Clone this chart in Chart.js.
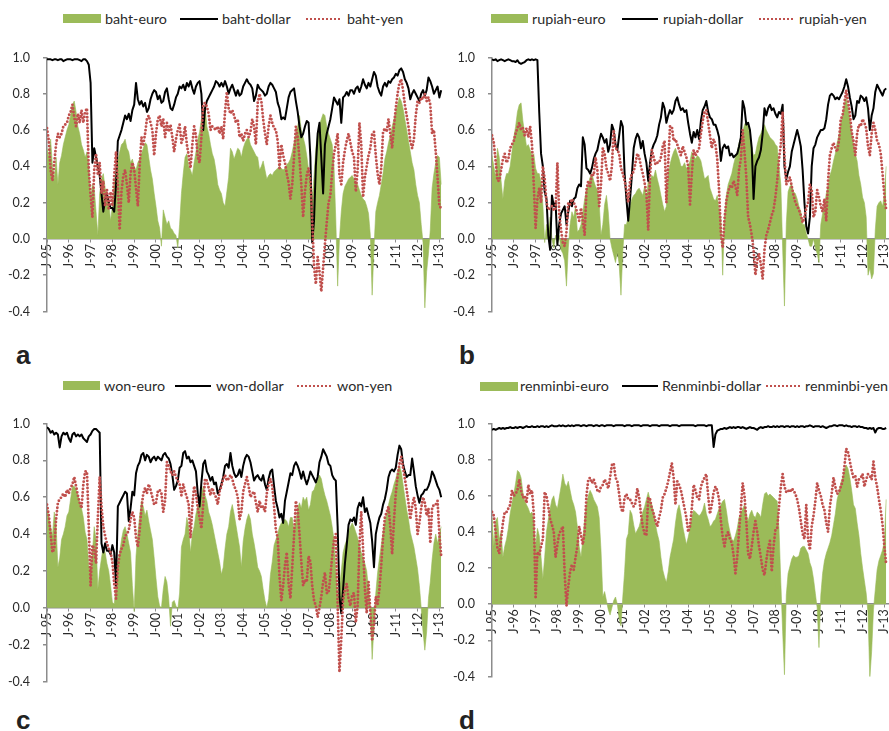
<!DOCTYPE html>
<html>
<head>
<meta charset="utf-8">
<script src="https://cdn.jsdelivr.net/npm/chart.js@4.4.1/dist/chart.umd.min.js"></script>
<style>
  html, body { margin: 0; padding: 0; background: #fff; width: 889px; height: 731px; overflow: hidden; }
  body { position: relative; font-family: Lato, "Liberation Sans", sans-serif; }
  canvas { position: absolute; }
  .lg { position: absolute; font-size: 14.3px; line-height: 16px; color: #2a2a2a; white-space: nowrap; }
  .box { position: absolute; height: 9px; background: #9bbb59; }
  .ln { position: absolute; height: 2px; background: #000; }
  .dt { position: absolute; height: 4px;
        background: radial-gradient(circle, #c0504d 1.1px, rgba(192,80,77,0) 1.5px) 0 0 / 4px 4px repeat-x; }
  .tag { position: absolute; font: bold 26px "Liberation Sans", Arial, sans-serif; line-height: 26px; color: #222; }
</style>
</head>
<body>
<canvas id="pa" width="459" height="295" style="left:0px;top:37px"></canvas>
<canvas id="pb" width="459" height="295" style="left:445px;top:37px"></canvas>
<canvas id="pc" width="459" height="299" style="left:0px;top:403px"></canvas>
<canvas id="pd" width="459" height="294" style="left:445px;top:403px"></canvas>

<!-- legends -->
<div class="box" style="left:63px;top:14px;width:38px"></div>
<div class="lg" style="left:105px;top:11px">baht-euro</div>
<div class="ln" style="left:180px;top:18px;width:38px"></div>
<div class="lg" style="left:222px;top:11px">baht-dollar</div>
<div class="dt" style="left:305px;top:17px;width:37px"></div>
<div class="lg" style="left:347px;top:11px">baht-yen</div>

<div class="box" style="left:491px;top:14px;width:37px"></div>
<div class="lg" style="left:532px;top:11px">rupiah-euro</div>
<div class="ln" style="left:622px;top:18px;width:36px"></div>
<div class="lg" style="left:663px;top:11px">rupiah-dollar</div>
<div class="dt" style="left:758px;top:17px;width:37px"></div>
<div class="lg" style="left:799px;top:11px">rupiah-yen</div>

<div class="box" style="left:63px;top:381px;width:37px"></div>
<div class="lg" style="left:104px;top:378px">won-euro</div>
<div class="ln" style="left:175px;top:385px;width:36px"></div>
<div class="lg" style="left:216px;top:378px">won-dollar</div>
<div class="dt" style="left:296px;top:384px;width:37px"></div>
<div class="lg" style="left:337px;top:378px">won-yen</div>

<div class="box" style="left:480px;top:382px;width:38px"></div>
<div class="lg" style="left:520px;top:378px">renminbi-euro</div>
<div class="ln" style="left:622px;top:385px;width:36px"></div>
<div class="lg" style="left:662px;top:378px">Renminbi-dollar</div>
<div class="dt" style="left:765px;top:384px;width:36px"></div>
<div class="lg" style="left:805px;top:378px">renminbi-yen</div>

<div class="tag" style="left:16px;top:342px">a</div>
<div class="tag" style="left:459px;top:342px">b</div>
<div class="tag" style="left:16px;top:707px">c</div>
<div class="tag" style="left:459px;top:707px">d</div>

<script>
// Monthly correlation readings, Jan 1995 .. Feb 2013 (one value per month).
const yearLabels = ['J-95','J-96','J-97','J-98','J-99','J-00','J-01','J-02','J-03','J-04',
                    'J-05','J-06','J-07','J-08','J-09','J-10','J-11','J-12','J-13'];
const yTicks = [-0.4, -0.2, 0.0, 0.2, 0.4, 0.6, 0.8, 1.0];

// (a) baht
const bahtEuro = [
  0.50,0.45,0.55,0.40,0.33,0.45,0.30,0.42,0.46,0.52,0.56,0.60,
  0.63,0.68,0.74,0.76,0.70,0.62,0.58,0.52,0.49,0.45,0.48,0.40,
  0.22,0.30,0.28,0.15,0.02,0.25,0.33,0.36,0.28,0.25,0.20,0.10,
  0.18,0.30,0.38,0.43,0.48,0.52,0.53,0.55,0.50,0.48,0.42,0.44,
  0.40,0.38,0.42,0.44,0.47,0.50,0.53,0.52,0.45,0.38,0.33,0.25,
  0.18,0.10,0.06,-0.04,0.16,0.12,0.08,0.10,0.06,0.05,0.03,0.02,
  -0.05,0.08,0.25,0.36,0.45,0.47,0.40,0.38,0.35,0.42,0.48,0.55,
  0.59,0.66,0.70,0.73,0.62,0.58,0.52,0.47,0.44,0.38,0.30,0.27,
  0.25,0.20,0.18,0.26,0.34,0.50,0.48,0.44,0.47,0.50,0.49,0.45,
  0.50,0.53,0.55,0.56,0.52,0.50,0.48,0.46,0.45,0.38,0.40,0.43,
  0.38,0.33,0.35,0.36,0.35,0.37,0.38,0.39,0.40,0.39,0.38,0.39,
  0.41,0.42,0.44,0.48,0.53,0.58,0.62,0.68,0.60,0.56,0.52,0.46,
  0.38,0.30,0.22,0.35,0.50,0.58,0.63,0.66,0.69,0.68,0.62,0.58,
  0.55,0.52,0.40,0.10,-0.26,0.00,0.15,0.25,0.29,0.31,0.33,0.34,
  0.35,0.33,0.31,0.30,0.27,0.24,0.22,0.21,0.18,0.14,0.02,-0.31,
  -0.05,0.15,0.20,0.24,0.30,0.36,0.44,0.48,0.53,0.57,0.62,0.66,
  0.70,0.74,0.78,0.76,0.72,0.66,0.60,0.54,0.48,0.42,0.38,0.30,
  0.24,0.20,0.08,-0.02,-0.38,-0.18,-0.08,0.05,0.28,0.36,0.42,0.46,
  0.45,0.30
];
const bahtDollar = [
  0.99,0.99,0.99,0.985,0.99,0.99,0.985,0.99,0.99,0.98,0.985,0.99,
  0.99,0.99,0.985,0.99,0.99,0.99,0.985,0.98,0.99,0.99,0.98,0.96,
  0.86,0.42,0.50,0.45,0.40,0.35,0.25,0.15,0.22,0.25,0.20,0.17,
  0.17,0.15,0.30,0.54,0.57,0.60,0.64,0.68,0.66,0.69,0.65,0.71,
  0.74,0.86,0.77,0.74,0.76,0.73,0.75,0.70,0.72,0.77,0.80,0.82,
  0.81,0.77,0.79,0.75,0.76,0.81,0.83,0.77,0.72,0.71,0.74,0.78,
  0.80,0.84,0.83,0.85,0.82,0.86,0.84,0.87,0.83,0.80,0.84,0.86,
  0.87,0.80,0.60,0.72,0.76,0.78,0.80,0.82,0.84,0.87,0.86,0.84,
  0.86,0.84,0.87,0.84,0.80,0.83,0.85,0.82,0.79,0.82,0.79,0.80,
  0.84,0.86,0.88,0.86,0.85,0.83,0.76,0.79,0.85,0.83,0.82,0.81,
  0.79,0.80,0.84,0.86,0.85,0.83,0.81,0.75,0.72,0.66,0.67,0.66,
  0.72,0.78,0.81,0.82,0.83,0.76,0.70,0.62,0.56,0.58,0.62,0.65,
  0.64,0.45,-0.02,0.10,0.40,0.58,0.64,0.45,0.25,0.52,0.58,0.62,
  0.66,0.72,0.78,0.76,0.74,0.77,0.64,0.78,0.79,0.81,0.79,0.82,
  0.82,0.80,0.83,0.84,0.81,0.84,0.88,0.85,0.83,0.86,0.84,0.88,
  0.92,0.90,0.84,0.81,0.79,0.84,0.86,0.84,0.87,0.86,0.88,0.89,
  0.91,0.90,0.93,0.94,0.92,0.88,0.86,0.83,0.77,0.80,0.82,0.80,
  0.78,0.76,0.80,0.82,0.79,0.82,0.89,0.87,0.84,0.80,0.82,0.84,
  0.78,0.82
];
const bahtYen = [
  0.61,0.54,0.38,0.32,0.42,0.52,0.58,0.56,0.58,0.62,0.63,0.64,
  0.68,0.70,0.74,0.67,0.62,0.69,0.64,0.71,0.64,0.70,0.72,0.38,
  0.24,0.12,0.38,0.47,0.35,0.42,0.25,0.32,0.18,0.27,0.16,0.26,
  0.18,0.35,0.48,0.30,0.05,0.26,0.35,0.38,0.30,0.20,0.36,0.42,
  0.38,0.28,0.18,0.40,0.56,0.52,0.58,0.66,0.68,0.64,0.60,0.46,
  0.58,0.66,0.68,0.62,0.66,0.56,0.64,0.59,0.63,0.56,0.48,0.55,
  0.60,0.63,0.53,0.56,0.62,0.52,0.46,0.39,0.52,0.62,0.57,0.45,
  0.42,0.56,0.74,0.75,0.73,0.69,0.60,0.62,0.61,0.60,0.62,0.58,
  0.62,0.55,0.70,0.81,0.72,0.69,0.71,0.68,0.64,0.66,0.56,0.58,
  0.54,0.58,0.60,0.56,0.59,0.66,0.62,0.52,0.75,0.80,0.76,0.66,
  0.58,0.52,0.62,0.68,0.64,0.61,0.60,0.54,0.39,0.52,0.46,0.42,
  0.36,0.31,0.22,0.30,0.45,0.62,0.56,0.44,0.30,0.12,0.26,0.35,
  0.39,0.32,0.10,-0.15,-0.25,-0.10,-0.18,-0.29,-0.16,-0.03,0.09,0.20,
  0.24,0.37,0.47,0.52,0.58,0.35,0.30,0.42,0.49,0.54,0.58,0.53,
  0.48,0.45,0.26,0.38,0.64,0.52,0.23,0.34,0.40,0.46,0.50,0.58,
  0.59,0.46,0.36,0.30,0.39,0.59,0.61,0.59,0.66,0.58,0.50,0.62,
  0.72,0.80,0.86,0.88,0.82,0.74,0.68,0.62,0.54,0.50,0.55,0.68,
  0.76,0.75,0.78,0.77,0.80,0.76,0.78,0.74,0.58,0.60,0.48,0.34,
  0.18,0.17
];

// (b) rupiah
const rupiahEuro = [
  0.46,0.40,0.34,0.50,0.45,0.32,0.22,0.32,0.36,0.36,0.40,0.48,
  0.56,0.62,0.70,0.74,0.75,0.65,0.58,0.51,0.52,0.49,0.46,0.47,
  0.39,0.36,0.36,0.31,0.19,-0.02,0.08,0.02,0.12,0.00,-0.05,0.02,
  -0.03,0.02,-0.06,-0.08,-0.12,-0.26,-0.05,0.08,0.15,0.12,0.18,0.04,
  0.05,0.08,0.15,0.22,0.27,0.30,0.34,0.36,0.32,0.29,0.27,0.20,
  0.02,0.08,0.19,0.24,0.15,0.00,-0.05,-0.09,-0.13,-0.07,-0.14,-0.31,
  -0.07,0.08,0.08,0.12,0.18,0.22,0.24,0.25,0.27,0.28,0.26,0.24,
  0.29,0.22,0.32,0.32,0.35,0.34,0.38,0.33,0.29,0.24,0.19,0.15,
  0.18,0.36,0.41,0.45,0.48,0.50,0.47,0.44,0.40,0.40,0.42,0.39,
  0.40,0.43,0.48,0.46,0.44,0.46,0.45,0.43,0.38,0.33,0.34,0.35,
  0.28,0.25,0.22,0.21,0.24,0.16,0.12,-0.20,0.12,0.24,0.30,0.33,
  0.36,0.41,0.45,0.48,0.53,0.56,0.59,0.63,0.65,0.62,0.56,0.50,
  0.46,0.47,0.52,0.56,0.58,0.61,0.63,0.60,0.58,0.56,0.55,0.54,
  0.52,0.51,0.40,0.30,-0.05,-0.37,0.08,0.26,0.29,0.30,0.26,0.25,
  0.22,0.18,0.15,0.08,0.08,0.03,0.00,-0.04,-0.04,0.00,-0.05,-0.08,
  -0.13,0.08,0.14,0.18,0.25,0.29,0.35,0.38,0.43,0.47,0.53,0.57,
  0.63,0.68,0.74,0.78,0.72,0.66,0.58,0.52,0.47,0.43,0.35,0.30,
  0.23,0.20,0.12,-0.20,-0.16,-0.22,-0.19,0.05,0.18,0.20,0.21,0.18,
  0.25,0.40
];
const rupiahDollar = [
  0.99,0.985,0.99,0.98,0.985,0.99,0.985,0.98,0.985,0.99,0.985,0.98,
  0.98,0.975,0.985,0.97,0.965,0.97,0.975,0.985,0.99,0.985,0.99,0.985,
  0.99,0.985,0.70,0.47,0.40,0.26,0.22,0.02,-0.06,0.24,0.18,0.20,
  -0.03,0.08,0.14,0.16,0.18,0.08,0.15,0.21,0.18,0.22,0.23,0.28,
  0.30,0.29,0.56,0.52,0.39,0.38,0.36,0.39,0.44,0.47,0.49,0.54,
  0.58,0.56,0.53,0.55,0.48,0.52,0.63,0.60,0.52,0.49,0.57,0.65,
  0.62,0.36,0.22,0.10,0.22,0.35,0.50,0.55,0.58,0.56,0.50,0.54,
  0.47,0.42,0.32,0.42,0.49,0.52,0.54,0.57,0.63,0.67,0.75,0.72,
  0.64,0.68,0.71,0.69,0.71,0.76,0.78,0.74,0.71,0.72,0.70,0.71,
  0.64,0.58,0.53,0.59,0.56,0.60,0.55,0.65,0.71,0.73,0.76,0.70,
  0.67,0.66,0.63,0.63,0.60,0.56,0.43,0.50,0.52,0.50,0.51,0.46,
  0.47,0.45,0.46,0.47,0.51,0.56,0.76,0.72,0.63,0.64,0.60,0.50,
  0.22,0.40,0.43,0.45,0.49,0.58,0.72,0.68,0.72,0.74,0.71,0.72,
  0.69,0.67,0.70,0.69,0.74,0.40,0.33,0.37,0.40,0.48,0.52,0.56,
  0.60,0.56,0.51,0.38,0.20,0.07,0.03,0.12,0.40,0.50,0.52,0.56,
  0.58,0.60,0.60,0.61,0.66,0.74,0.79,0.80,0.79,0.77,0.78,0.77,
  0.79,0.81,0.84,0.88,0.84,0.78,0.73,0.66,0.68,0.76,0.75,0.79,
  0.78,0.76,0.78,0.72,0.60,0.68,0.72,0.81,0.85,0.83,0.81,0.79,
  0.82,0.83
];
const rupiahYen = [
  0.57,0.53,0.43,0.32,0.32,0.38,0.44,0.47,0.42,0.44,0.50,0.52,
  0.54,0.58,0.61,0.64,0.60,0.61,0.57,0.61,0.56,0.62,0.52,0.30,
  0.06,0.22,0.28,0.20,0.40,0.33,0.20,0.16,0.17,0.18,0.16,0.16,
  0.42,0.14,0.05,-0.02,-0.04,0.04,0.20,0.19,0.22,0.20,0.18,0.14,
  0.10,0.17,0.10,0.02,0.27,0.32,0.29,0.36,0.35,0.45,0.38,0.18,
  0.30,0.50,0.47,0.39,0.36,0.32,0.40,0.60,0.50,0.49,0.47,0.39,
  0.36,0.32,0.27,0.20,0.32,0.36,0.37,0.42,0.47,0.45,0.40,0.36,
  0.31,0.25,0.05,0.35,0.49,0.45,0.41,0.42,0.42,0.45,0.51,0.54,
  0.20,0.42,0.62,0.62,0.54,0.55,0.52,0.49,0.46,0.51,0.48,0.45,
  0.40,0.19,0.36,0.49,0.46,0.48,0.50,0.58,0.65,0.70,0.71,0.64,
  0.57,0.50,0.55,0.52,0.44,0.27,0.03,-0.05,0.11,0.21,0.26,0.29,
  0.28,0.32,0.29,0.24,0.38,0.44,0.60,0.48,0.34,0.12,0.08,0.02,
  -0.06,-0.20,-0.12,-0.08,-0.14,-0.22,-0.06,0.02,0.05,0.09,0.13,0.16,
  0.23,0.32,0.44,0.52,0.70,0.45,0.30,0.32,0.34,0.29,0.24,0.20,
  0.18,0.16,0.13,0.09,0.12,0.17,0.20,0.30,0.27,0.12,0.15,0.27,
  0.23,0.18,0.15,0.22,0.10,0.32,0.46,0.50,0.53,0.50,0.48,0.54,
  0.66,0.68,0.75,0.82,0.76,0.69,0.59,0.54,0.46,0.58,0.63,0.62,
  0.66,0.64,0.61,0.51,0.46,0.58,0.64,0.60,0.54,0.52,0.47,0.36,
  0.24,0.16
];

// (c) won
const wonEuro = [
  0.54,0.49,0.44,0.39,0.52,0.45,0.22,0.27,0.37,0.40,0.44,0.50,
  0.52,0.59,0.66,0.66,0.64,0.61,0.57,0.54,0.49,0.41,0.37,0.23,
  0.18,0.30,0.44,0.37,0.10,0.20,0.27,0.33,0.30,0.24,0.20,0.12,
  0.03,0.02,0.12,0.25,0.30,0.37,0.42,0.44,0.40,0.35,0.30,0.12,
  -0.02,0.28,0.40,0.50,0.58,0.55,0.50,0.53,0.47,0.42,0.37,0.27,
  0.16,0.06,0.01,0.00,0.10,0.17,0.14,0.05,-0.10,0.03,0.04,0.01,
  -0.01,0.08,0.33,0.37,0.40,0.49,0.44,0.30,0.40,0.44,0.51,0.55,
  0.58,0.62,0.66,0.61,0.58,0.52,0.49,0.45,0.40,0.35,0.30,0.25,
  0.18,0.22,0.32,0.40,0.44,0.52,0.56,0.51,0.45,0.39,0.33,0.22,
  0.36,0.43,0.48,0.51,0.48,0.40,0.35,0.29,0.22,0.20,0.17,0.10,
  0.04,0.00,0.05,0.18,0.25,0.34,0.37,0.40,0.44,0.46,0.47,0.48,
  0.47,0.44,0.49,0.49,0.42,0.47,0.54,0.57,0.54,0.60,0.58,0.60,
  0.53,0.56,0.63,0.64,0.67,0.69,0.72,0.70,0.65,0.61,0.58,0.54,
  0.50,0.44,0.37,0.20,0.05,0.10,0.20,0.30,0.34,0.37,0.41,0.44,
  0.46,0.44,0.41,0.38,0.34,0.30,0.27,0.24,0.20,0.10,0.00,-0.28,
  -0.10,0.08,0.19,0.27,0.34,0.41,0.46,0.51,0.56,0.60,0.63,0.67,
  0.70,0.74,0.77,0.74,0.67,0.60,0.53,0.48,0.41,0.37,0.33,0.27,
  0.21,0.12,0.00,-0.13,-0.23,-0.13,0.05,0.14,0.26,0.35,0.40,0.35,
  0.40,0.44
];
const wonDollar = [
  0.98,0.97,0.95,0.96,0.94,0.95,0.94,0.87,0.93,0.95,0.94,0.95,
  0.92,0.90,0.94,0.95,0.93,0.94,0.93,0.94,0.92,0.91,0.90,0.93,
  0.94,0.96,0.97,0.97,0.96,0.95,0.35,0.30,0.35,0.31,0.31,0.29,
  0.34,0.30,0.12,0.55,0.57,0.59,0.61,0.63,0.62,0.47,0.54,0.63,
  0.61,0.73,0.77,0.79,0.83,0.84,0.80,0.83,0.82,0.79,0.81,0.82,
  0.80,0.82,0.81,0.80,0.83,0.84,0.82,0.81,0.78,0.72,0.64,0.66,
  0.69,0.76,0.77,0.84,0.85,0.81,0.82,0.79,0.80,0.77,0.74,0.62,
  0.55,0.68,0.78,0.80,0.74,0.72,0.69,0.71,0.67,0.68,0.62,0.64,
  0.67,0.71,0.77,0.78,0.76,0.84,0.77,0.73,0.71,0.72,0.75,0.71,
  0.77,0.81,0.83,0.82,0.79,0.74,0.69,0.71,0.72,0.70,0.69,0.72,
  0.67,0.64,0.70,0.74,0.75,0.66,0.58,0.54,0.49,0.51,0.46,0.58,
  0.63,0.68,0.73,0.72,0.77,0.79,0.77,0.74,0.70,0.74,0.70,0.67,
  0.70,0.74,0.72,0.70,0.68,0.71,0.79,0.82,0.86,0.84,0.82,0.78,
  0.77,0.72,0.70,0.69,0.44,0.06,-0.03,0.10,0.24,0.34,0.45,0.48,
  0.47,0.49,0.45,0.54,0.57,0.55,0.60,0.52,0.54,0.50,0.46,0.36,
  0.22,0.40,0.45,0.49,0.51,0.56,0.59,0.64,0.71,0.74,0.75,0.74,
  0.76,0.83,0.88,0.86,0.78,0.74,0.71,0.72,0.72,0.81,0.74,0.66,
  0.61,0.57,0.61,0.62,0.64,0.64,0.66,0.69,0.74,0.72,0.69,0.66,
  0.64,0.60
];
const wonYen = [
  0.56,0.50,0.40,0.30,0.32,0.48,0.57,0.59,0.60,0.62,0.60,0.64,
  0.62,0.65,0.67,0.71,0.66,0.61,0.57,0.54,0.67,0.74,0.74,0.44,
  0.12,0.34,0.32,0.24,0.49,0.71,0.55,0.44,0.39,0.35,0.32,0.30,
  0.25,0.13,0.05,0.22,0.29,0.32,0.34,0.39,0.40,0.42,0.48,0.52,
  0.49,0.38,0.33,0.42,0.54,0.62,0.65,0.62,0.67,0.64,0.60,0.56,
  0.57,0.63,0.64,0.62,0.52,0.58,0.79,0.77,0.74,0.72,0.74,0.71,
  0.69,0.67,0.61,0.67,0.63,0.60,0.56,0.38,0.55,0.66,0.62,0.54,
  0.49,0.43,0.56,0.70,0.69,0.65,0.61,0.65,0.62,0.60,0.56,0.63,
  0.66,0.70,0.72,0.69,0.70,0.72,0.70,0.66,0.64,0.60,0.48,0.52,
  0.63,0.67,0.71,0.66,0.60,0.62,0.63,0.57,0.52,0.58,0.54,0.55,
  0.52,0.62,0.67,0.70,0.66,0.55,0.42,0.38,0.17,0.04,0.12,0.23,
  0.30,0.13,0.05,0.22,0.39,0.58,0.53,0.40,0.25,0.12,0.15,0.14,
  0.28,0.25,0.12,0.04,0.01,-0.05,0.00,0.06,0.14,0.19,0.08,0.08,
  0.17,0.28,0.37,0.40,0.02,-0.35,-0.17,0.04,0.10,0.13,0.05,0.01,
  0.07,0.08,-0.08,0.01,0.34,0.52,0.32,0.10,-0.03,0.14,-0.02,-0.18,
  -0.09,0.06,0.02,0.10,0.23,0.38,0.49,0.52,0.55,0.44,0.29,0.47,
  0.62,0.71,0.78,0.82,0.76,0.70,0.64,0.57,0.48,0.55,0.60,0.54,
  0.40,0.46,0.54,0.60,0.57,0.50,0.54,0.35,0.54,0.56,0.56,0.58,
  0.40,0.28
];

// (d) renminbi
const renminbiEuro = [
  0.48,0.32,0.46,0.48,0.36,0.40,0.26,0.32,0.36,0.42,0.50,0.56,
  0.61,0.67,0.74,0.73,0.70,0.62,0.57,0.55,0.53,0.50,0.51,0.46,
  0.32,0.42,0.38,0.26,0.14,0.26,0.40,0.47,0.53,0.58,0.60,0.55,
  0.53,0.59,0.65,0.72,0.67,0.65,0.68,0.63,0.58,0.55,0.51,0.43,
  0.32,0.26,0.36,0.47,0.55,0.60,0.63,0.61,0.58,0.56,0.54,0.48,
  0.30,0.04,0.07,0.02,-0.03,-0.06,-0.02,0.02,0.04,0.00,-0.08,-0.12,
  0.04,0.18,0.36,0.39,0.52,0.50,0.44,0.39,0.41,0.43,0.47,0.51,
  0.54,0.58,0.62,0.58,0.55,0.51,0.44,0.39,0.35,0.26,0.19,0.15,
  0.12,0.18,0.26,0.31,0.36,0.45,0.52,0.55,0.50,0.43,0.38,0.33,
  0.37,0.42,0.48,0.52,0.51,0.50,0.49,0.50,0.52,0.56,0.50,0.47,
  0.43,0.44,0.46,0.47,0.50,0.53,0.55,0.57,0.58,0.52,0.45,0.40,
  0.36,0.35,0.38,0.42,0.48,0.50,0.53,0.55,0.50,0.46,0.50,0.52,
  0.49,0.48,0.51,0.50,0.48,0.55,0.61,0.62,0.60,0.61,0.60,0.59,
  0.58,0.57,0.42,0.12,-0.15,-0.39,0.05,0.17,0.21,0.25,0.27,0.26,
  0.26,0.27,0.31,0.32,0.32,0.30,0.28,0.23,0.20,0.14,0.06,-0.02,
  -0.24,0.05,0.17,0.24,0.28,0.31,0.34,0.38,0.44,0.50,0.58,0.62,
  0.67,0.70,0.74,0.77,0.75,0.70,0.63,0.55,0.53,0.45,0.38,0.28,
  0.20,0.13,0.06,-0.05,-0.41,-0.26,-0.03,0.08,0.19,0.24,0.27,0.30,
  0.35,0.58
];
const renminbiDollar = [
  0.965,0.97,0.965,0.97,0.975,0.97,0.975,0.97,0.975,0.975,0.98,0.975,
  0.975,0.98,0.975,0.98,0.98,0.975,0.98,0.985,0.98,0.98,0.985,0.98,
  0.98,0.985,0.98,0.985,0.985,0.98,0.985,0.98,0.985,0.99,0.985,0.985,
  0.985,0.99,0.985,0.99,0.985,0.985,0.99,0.985,0.99,0.985,0.99,0.99,
  0.99,0.985,0.99,0.99,0.985,0.99,0.99,0.99,0.985,0.99,0.99,0.985,
  0.99,0.99,0.985,0.99,0.99,0.99,0.99,0.985,0.99,0.99,0.99,0.99,
  0.99,0.985,0.99,0.99,0.99,0.985,0.99,0.99,0.99,0.99,0.985,0.99,
  0.99,0.99,0.99,0.985,0.99,0.99,0.99,0.99,0.985,0.99,0.99,0.99,
  0.99,0.99,0.985,0.99,0.99,0.99,0.99,0.985,0.99,0.99,0.99,0.99,
  0.99,0.99,0.99,0.99,0.985,0.99,0.99,0.99,0.99,0.99,0.985,0.99,
  0.99,0.99,0.87,0.94,0.96,0.965,0.97,0.97,0.975,0.97,0.975,0.98,
  0.975,0.98,0.975,0.98,0.98,0.975,0.98,0.975,0.97,0.975,0.98,0.975,
  0.975,0.97,0.965,0.975,0.98,0.975,0.98,0.98,0.985,0.98,0.98,0.985,
  0.98,0.985,0.98,0.985,0.985,0.98,0.985,0.985,0.98,0.985,0.985,0.98,
  0.985,0.98,0.985,0.985,0.98,0.985,0.985,0.99,0.985,0.98,0.985,0.985,
  0.985,0.98,0.985,0.98,0.975,0.98,0.985,0.985,0.99,0.99,0.985,0.99,
  0.99,0.99,0.985,0.99,0.985,0.985,0.98,0.985,0.985,0.98,0.985,0.98,
  0.98,0.975,0.975,0.97,0.975,0.97,0.975,0.95,0.97,0.975,0.975,0.97,
  0.97,0.975
];
const renminbiYen = [
  0.51,0.49,0.40,0.31,0.28,0.36,0.45,0.51,0.51,0.53,0.55,0.63,
  0.60,0.61,0.63,0.69,0.63,0.59,0.60,0.56,0.66,0.61,0.63,0.50,
  0.03,0.29,0.27,0.32,0.36,0.62,0.60,0.54,0.47,0.44,0.40,0.26,
  0.33,0.39,0.41,0.43,0.17,-0.01,0.10,0.18,0.22,0.19,0.26,0.32,
  0.43,0.38,0.33,0.40,0.60,0.69,0.70,0.67,0.69,0.66,0.63,0.62,
  0.65,0.66,0.69,0.67,0.64,0.70,0.77,0.78,0.70,0.68,0.61,0.53,
  0.51,0.59,0.61,0.58,0.58,0.56,0.54,0.56,0.64,0.59,0.50,0.43,
  0.39,0.38,0.59,0.58,0.53,0.50,0.46,0.43,0.48,0.52,0.59,0.61,
  0.64,0.68,0.73,0.78,0.70,0.55,0.68,0.66,0.63,0.58,0.53,0.48,
  0.40,0.43,0.53,0.66,0.63,0.59,0.58,0.65,0.68,0.70,0.72,0.60,
  0.50,0.55,0.62,0.65,0.63,0.58,0.46,0.37,0.32,0.38,0.40,0.36,
  0.34,0.27,0.17,0.26,0.40,0.53,0.67,0.60,0.46,0.28,0.25,0.32,
  0.40,0.46,0.40,0.32,0.26,0.19,0.16,0.24,0.31,0.35,0.18,0.32,
  0.41,0.42,0.54,0.65,0.72,0.65,0.62,0.63,0.62,0.64,0.63,0.61,
  0.58,0.53,0.46,0.39,0.36,0.55,0.36,0.30,0.43,0.49,0.57,0.67,
  0.63,0.60,0.55,0.52,0.45,0.40,0.54,0.61,0.70,0.65,0.61,0.62,
  0.65,0.68,0.76,0.86,0.84,0.79,0.74,0.70,0.71,0.65,0.69,0.70,
  0.72,0.65,0.69,0.72,0.71,0.69,0.79,0.70,0.65,0.58,0.52,0.44,
  0.32,0.22
];

const GREEN = '#9bbb59';
const RED = '#c0504d';
const AXIS = '#8c8c8c';
const TEXT = '#2a2a2a';

// month index 0 = Jan 1995
const months = bahtEuro.map((_, i) => i);

function drawPanel(id, names, euro, dollar, yen) {
  new Chart(document.getElementById(id), {
    type: 'line',
    data: {
      labels: months,
      datasets: [
        { label: names[0], data: euro, order: 3, fill: 'origin',
          backgroundColor: GREEN, borderColor: GREEN, borderWidth: 0.6,
          pointRadius: 0, tension: 0 },
        { label: names[1], data: dollar, order: 2, fill: false,
          borderColor: '#000', borderWidth: 2, borderJoinStyle: 'round',
          pointRadius: 0, tension: 0 },
        { label: names[2], data: yen, order: 1, fill: false,
          borderColor: RED, borderWidth: 2.9, borderDash: [0, 3.6],
          borderCapStyle: 'round', borderJoinStyle: 'round',
          pointRadius: 0, tension: 0 }
      ]
    },
    options: {
      responsive: false,
      animation: false,
      devicePixelRatio: 1,
      events: [],
      layout: { padding: { top: 10, bottom: 10, left: 0, right: 16 } },
      plugins: { legend: { display: false }, tooltip: { enabled: false } },
      scales: {
        x: {
          type: 'linear',
          position: { y: 0 },
          min: 0,
          max: 218,
          afterBuildTicks: (s) => { s.ticks = yearLabels.map((_, i) => ({ value: i * 12 })); },
          ticks: {
            autoSkip: false,
            minRotation: 90,
            maxRotation: 90,
            padding: 2,
            color: TEXT,
            font: { family: 'Lato', size: 12.5 },
            callback: (v, i) => yearLabels[i]
          },
          grid: { drawOnChartArea: false, drawTicks: true, tickLength: 3, color: AXIS, lineWidth: 1 },
          border: { display: true, color: AXIS, width: 1.5 }
        },
        y: {
          min: -0.4,
          max: 1.0,
          afterBuildTicks: (s) => { s.ticks = yTicks.map(v => ({ value: v })); },
          afterFit: (s) => { s.width = 47; },
          ticks: {
            padding: 13,
            color: TEXT,
            font: { family: 'Lato', size: 12.5 },
            callback: (v) => Number(v).toFixed(1)
          },
          grid: { drawOnChartArea: false, drawTicks: true, tickLength: 4, color: AXIS, lineWidth: 1.5 },
          border: { display: true, color: AXIS, width: 1.5 }
        }
      }
    }
  });
}

drawPanel('pa', ['baht-euro', 'baht-dollar', 'baht-yen'], bahtEuro, bahtDollar, bahtYen);
drawPanel('pb', ['rupiah-euro', 'rupiah-dollar', 'rupiah-yen'], rupiahEuro, rupiahDollar, rupiahYen);
drawPanel('pc', ['won-euro', 'won-dollar', 'won-yen'], wonEuro, wonDollar, wonYen);
drawPanel('pd', ['renminbi-euro', 'Renminbi-dollar', 'renminbi-yen'], renminbiEuro, renminbiDollar, renminbiYen);
</script>
</body>
</html>
